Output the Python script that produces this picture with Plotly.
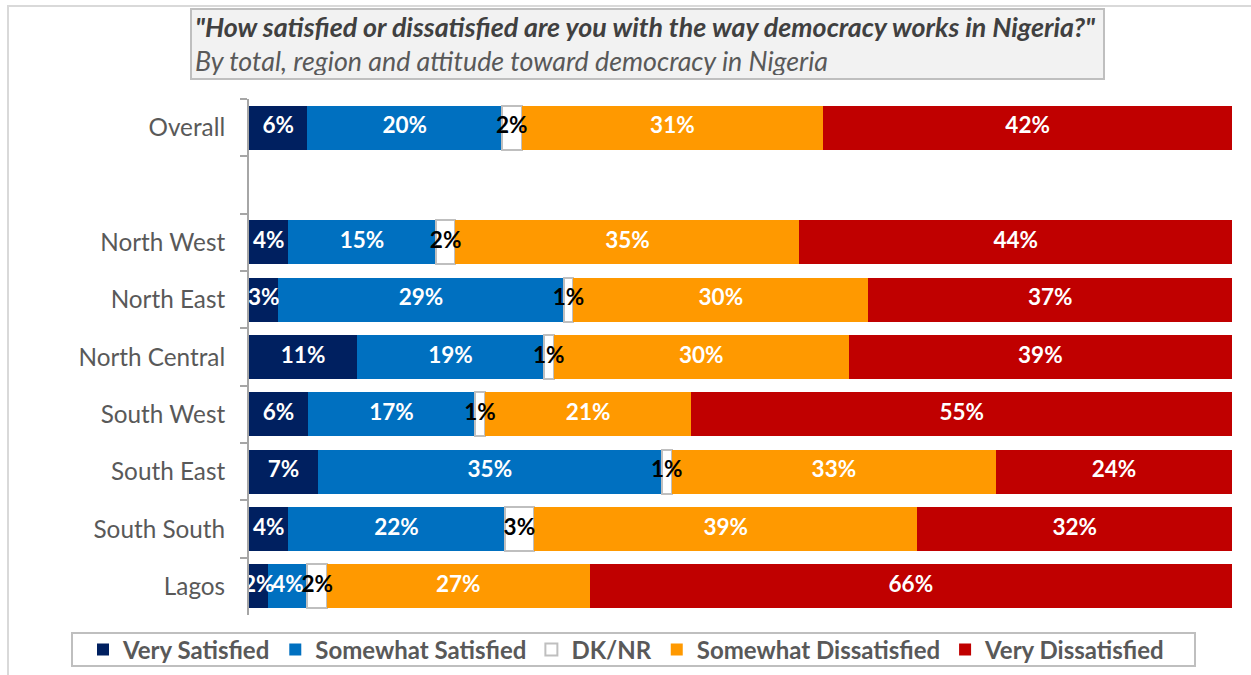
import plotly.graph_objects as go

# Survey categories (top to bottom) and response shares in percent
categories = ["Overall", "North West", "North East", "North Central",
              "South West", "South East", "South South", "Lagos"]
very_satisfied = [6, 4, 3, 11, 6, 7, 4, 2]
somewhat_satisfied = [20, 15, 29, 19, 17, 35, 22, 4]
dk_nr = [2, 2, 1, 1, 1, 1, 3, 2]
somewhat_dissatisfied = [31, 35, 30, 30, 21, 33, 39, 27]
very_dissatisfied = [42, 44, 37, 39, 55, 24, 32, 66]

series_names = ["Very Satisfied", "Somewhat Satisfied", "DK/NR",
                "Somewhat Dissatisfied", "Very Dissatisfied"]
series_values = [very_satisfied, somewhat_satisfied, dk_nr,
                 somewhat_dissatisfied, very_dissatisfied]
series_colors = ["#002060", "#0070C0", "#FFFFFF", "#FF9900", "#C00000"]
label_colors = ["white", "white", "black", "white", "white"]

# Empty slot separating the overall figure from the regions
row_order = [categories[0], " "] + categories[1:]

FONT = "Lato"
GRAY = "#595959"

fig = go.Figure()

for name, vals, color in zip(series_names, series_values, series_colors):
    is_blank = color == "#FFFFFF"
    fig.add_trace(go.Bar(
        name=name,
        y=categories,
        x=vals,
        orientation="h",
        marker=dict(color=color,
                    line=dict(color="#BFBFBF" if is_blank else color,
                              width=2 if is_blank else 0)),
        hovertemplate="%{y}: %{x}%<extra>" + name + "</extra>",
    ))

# Value labels, placed at the centre of each normalised segment
label_x, label_y, label_text, label_col = [], [], [], []
for i, cat in enumerate(categories):
    total = sum(v[i] for v in series_values)
    running = 0.0
    for vals, col in zip(series_values, label_colors):
        share = vals[i] / total * 100
        label_x.append(running + share / 2)
        label_y.append(cat)
        label_text.append(f"{vals[i]}%")
        label_col.append(col)
        running += share

fig.add_trace(go.Scatter(
    x=label_x, y=label_y, text=label_text, mode="text",
    textposition="middle center",
    textfont=dict(family=FONT, size=22.5, color=label_col, weight="bold"),
    showlegend=False, hoverinfo="skip",
))

L, R, T, B = 249, 19, 99, 60
W, H = 1251, 675
pw, ph = W - L - R, H - T - B


def px_x(px):
    return (px - L) / pw


def px_y(py):
    return (H - B - py) / ph


fig.update_layout(
    barmode="stack",
    barnorm="percent",
    bargap=0.23,
    width=W, height=H,
    margin=dict(l=L, r=R, t=T, b=B, autoexpand=False),
    paper_bgcolor="white",
    plot_bgcolor="white",
    font=dict(family=FONT, color=GRAY),
    xaxis=dict(range=[0, 100], visible=False, fixedrange=True),
    yaxis=dict(
        type="category",
        categoryorder="array",
        categoryarray=row_order,
        range=[len(row_order) - 0.5, -0.5],
        showline=True, linecolor="#A6A6A6", linewidth=2,
        ticks="outside", tickson="boundaries", ticklen=7,
        tickcolor="#A6A6A6", tickwidth=2,
        ticklabelstandoff=17,
        tickfont=dict(family=FONT, size=24.3, color=GRAY),
        showgrid=False, zeroline=False,
    ),
    showlegend=True,
    legend=dict(
        orientation="h",
        x=px_x(83), xanchor="left",
        y=px_y(650), yanchor="middle",
        borderwidth=0,
        bgcolor="rgba(0,0,0,0)",
        font=dict(family=FONT, size=24, color=GRAY, weight="bold"),
        traceorder="normal",
        itemwidth=30,
        tracegroupgap=0,
    ),
    shapes=[
        # outer frame of the figure
        dict(type="rect", xref="paper", yref="paper",
             x0=px_x(8), x1=px_x(1262), y0=px_y(6), y1=px_y(700),
             line=dict(color="#D9D9D9", width=2), layer="below"),
        # frame around the legend
        dict(type="rect", xref="paper", yref="paper",
             x0=px_x(72), x1=px_x(1195), y0=px_y(633), y1=px_y(666),
             line=dict(color="#BFBFBF", width=2), fillcolor="white",
             layer="below"),
    ],
    annotations=[
        dict(
            xref="paper", yref="paper",
            x=px_x(190), xanchor="left",
            y=px_y(8), yanchor="top",
            width=905, height=62, align="left", valign="middle",
            bgcolor="#F2F2F2", bordercolor="#BFBFBF", borderwidth=2,
            borderpad=3, showarrow=False,
            text=("<b><i>\"How satisfied or dissatisfied are you with the way "
                  "democracy works in Nigeria?\"</i></b><br>"
                  "<i><span style='color:#595959'>By total, region and attitude "
                  "toward democracy in Nigeria</span></i>"),
            font=dict(family=FONT, size=26.8, color="#404040"),
        ),
    ],
)

fig.write_html("out.html")
